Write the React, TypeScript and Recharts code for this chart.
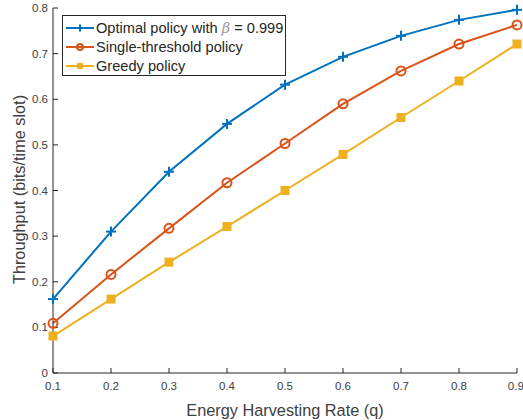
import React from 'react';
import { LineChart, Line, XAxis, YAxis } from 'recharts';

const rates = [0.1, 0.2, 0.3, 0.4, 0.5, 0.6, 0.7, 0.8, 0.9];
const optimal = [0.162, 0.31, 0.441, 0.546, 0.632, 0.693, 0.739, 0.774, 0.796];
const single = [0.109, 0.216, 0.317, 0.417, 0.503, 0.59, 0.662, 0.721, 0.763];
const greedy = [0.081, 0.162, 0.243, 0.321, 0.4, 0.479, 0.56, 0.64, 0.721];
const xTicks = [0.1, 0.2, 0.3, 0.4, 0.5, 0.6, 0.7, 0.8, 0.9];
const yTicks = [0, 0.1, 0.2, 0.3, 0.4, 0.5, 0.6, 0.7, 0.8];

const data = rates.map((q, i) => ({ q, optimal: optimal[i], single: single[i], greedy: greedy[i] }));

const BLUE = '#0072BD';
const ORANGE = '#D95319';
const YELLOW = '#EDB120';
const AX = '#262626';
const TXT = '#404040';
const FONT = '"Liberation Sans", Arial, Helvetica, sans-serif';

const Plus = (p: any) => {
  const { cx, cy, key } = p;
  if (cx == null || cy == null) return <g key={key} />;
  return (
    <g key={key}>
      <line x1={cx - 5} y1={cy} x2={cx + 5} y2={cy} stroke={BLUE} strokeWidth={2} />
      <line x1={cx} y1={cy - 5} x2={cx} y2={cy + 5} stroke={BLUE} strokeWidth={2} />
    </g>
  );
};
const Circ = (p: any) => {
  const { cx, cy, key } = p;
  if (cx == null || cy == null) return <g key={key} />;
  return <circle key={key} cx={cx} cy={cy} r={4.5} fill="none" stroke={ORANGE} strokeWidth={2} />;
};
const Sq = (p: any) => {
  const { cx, cy, key } = p;
  if (cx == null || cy == null) return <g key={key} />;
  return <rect key={key} x={cx - 4} y={cy - 4} width={8} height={8} fill={YELLOW} stroke={YELLOW} strokeWidth={1} />;
};

const LegendBox = () => (
  <svg width={226} height={62} style={{ display: 'block' }}>
    <rect x={0.5} y={0.5} width={223} height={60} fill="#fff" stroke={AX} strokeWidth={1} />
    <g>
      <line x1={4} y1={13} x2={32} y2={13} stroke={BLUE} strokeWidth={2} />
      <line x1={18} y1={9.5} x2={18} y2={16.5} stroke={BLUE} strokeWidth={2} />
      <text x={34} y={18.2} fontSize={14.6} fill={AX} fontFamily={FONT}>
        Optimal policy with <tspan fontStyle="italic" fontFamily="'DejaVu Serif', serif" fill="#999">β</tspan> = 0.999
      </text>
    </g>
    <g>
      <line x1={4} y1={32} x2={32} y2={32} stroke={ORANGE} strokeWidth={2} />
      <circle cx={18} cy={32} r={3} fill="none" stroke={ORANGE} strokeWidth={2} />
      <text x={34} y={37.2} fontSize={14.6} fill={AX} fontFamily={FONT}>Single-threshold policy</text>
    </g>
    <g>
      <line x1={4} y1={51} x2={32} y2={51} stroke={YELLOW} strokeWidth={2} />
      <rect x={15} y={48} width={6} height={6} fill={YELLOW} />
      <text x={34} y={56.2} fontSize={14.6} fill={AX} fontFamily={FONT}>Greedy policy</text>
    </g>
  </svg>
);

export default function App() {
  return (
    <div style={{ position: 'absolute', left: 0, top: 0, width: 523, height: 420, background: '#fff' }}>
      <LineChart width={523} height={420} data={data} margin={{ top: 8, right: 6, left: 0, bottom: 0 }}>
        <XAxis
          dataKey="q"
          type="number"
          domain={[0.1, 0.9]}
          ticks={xTicks}
          tickFormatter={(v: number) => String(Number(v.toFixed(1)))}
          height={47}
          stroke={AX}
          tickSize={-5}
          tickMargin={14}
          tick={{ fontSize: 11.5, fill: TXT, fontFamily: FONT }}
          label={{ value: 'Energy Harvesting Rate (q)', position: 'insideBottom', offset: 4, style: { fontSize: 16.3, fill: TXT, fontFamily: FONT } }}
        />
        <XAxis
          xAxisId="top"
          dataKey="q"
          type="number"
          orientation="top"
          domain={[0.1, 0.9]}
          ticks={xTicks}
          height={0}
          stroke={AX}
          tickSize={-5}
          tick={false}
        />
        <YAxis
          type="number"
          domain={[0, 0.8]}
          ticks={yTicks}
          tickFormatter={(v: number) => String(Number(v.toFixed(1)))}
          width={53}
          stroke={AX}
          tickSize={-5}
          tickMargin={10}
          tick={{ fontSize: 11.5, fill: TXT, fontFamily: FONT }}
          label={{ value: 'Throughput (bits/time slot)', angle: -90, position: 'center', dx: -7, dy: -1, style: { fontSize: 16.3, fill: TXT, fontFamily: FONT, textAnchor: 'middle' } }}
        />
        <YAxis
          yAxisId="right"
          orientation="right"
          type="number"
          domain={[0, 0.8]}
          ticks={yTicks}
          width={0}
          stroke={AX}
          tickSize={-5}
          tick={false}
        />
        <Line dataKey="greedy" stroke={YELLOW} strokeWidth={2} dot={Sq} activeDot={false} isAnimationActive={false} />
        <Line dataKey="single" stroke={ORANGE} strokeWidth={2} dot={Circ} activeDot={false} isAnimationActive={false} />
        <Line dataKey="optimal" stroke={BLUE} strokeWidth={2} dot={Plus} activeDot={false} isAnimationActive={false} />
      </LineChart>
      <div style={{ position: 'absolute', left: 62, top: 15 }}>
        <LegendBox />
      </div>
    </div>
  );
}
